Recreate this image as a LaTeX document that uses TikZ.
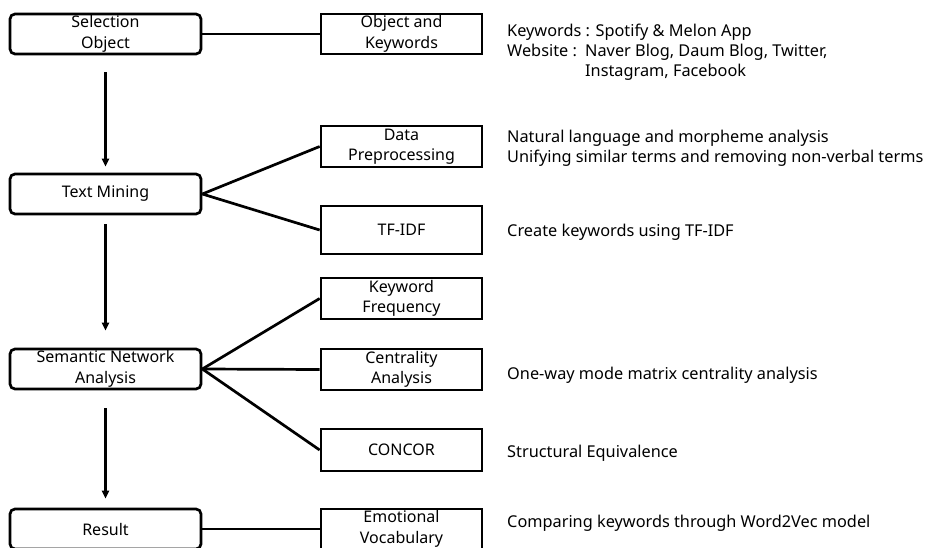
\documentclass[tikz,border=0pt]{standalone}
\usepackage{fontspec}
\setmainfont{Noto Sans}
\usetikzlibrary{arrows.meta}
\tikzset{
  leftbox/.style={draw, line width=2.7pt, rounded corners=5pt, minimum width=191pt, minimum height=40pt, inner sep=0pt, align=center, font=\fontsize{16}{20.5}\selectfont},
  rightbox/.style={draw, line width=2.7pt, minimum width=161pt, minimum height=40pt, inner sep=0pt, align=center, font=\fontsize{16}{20.5}\selectfont},
  link/.style={line width=2.7pt},
  flow/.style={line width=2.2pt, -{Triangle[length=8pt,width=7pt]}},
  note/.style={anchor=west, inner sep=0pt, align=left, font=\fontsize{16.3}{20}\selectfont}
}
\begin{document}
\begin{tikzpicture}[x=1pt,y=-1pt]
\useasboundingbox (0,0) rectangle (929,548);
% left boxes
\node[leftbox] (sel) at (105.5,34) {Selection\\Object};
\node[leftbox] (tm) at (105.5,194) {Text Mining};
\node[leftbox] (sna) at (105.5,369) {Semantic Network\\Analysis};
\node[leftbox] (res) at (105.5,529) {Result};
% right boxes
\node[rightbox] (oak) at (401.5,34) {Object and\\Keywords};
\node[rightbox, minimum height=41pt] (dp) at (401.5,146.5) {Data\\Preprocessing};
\node[rightbox, minimum height=48pt] (tfidf) at (401.5,230) {TF-IDF};
\node[rightbox, minimum height=41pt] (kf) at (401.5,298.5) {Keyword\\Frequency};
\node[rightbox, minimum height=41pt] (ca) at (401.5,369.5) {Centrality\\Analysis};
\node[rightbox, minimum height=42pt] (concor) at (401.5,450) {CONCOR};
\node[rightbox] (ev) at (401.5,529) {Emotional\\Vocabulary};
% flow arrows
\draw[flow] ([yshift=-17pt]sel.south) -- ([yshift=6pt]tm.north);
\draw[flow] ([yshift=-9pt]tm.south) -- ([yshift=17pt]sna.north);
\draw[flow] ([yshift=-18pt]sna.south) -- ([yshift=9pt]res.north);
% links
\draw[link] (sel.east) -- (oak.west);
\draw[link] (tm.east) -- (dp.west);
\draw[link] (tm.east) -- (tfidf.west);
\draw[link] (sna.east) -- (kf.west);
\draw[link] (sna.east) -- (ca.west);
\draw[link] (sna.east) -- (concor.west);
\draw[link] (res.east) -- (ev.west);
% notes
\node[note] (n1) at (507,52) {Keywords : Spotify \& Melon App\\\makebox[78pt][l]{Website :}Naver Blog, Daum Blog, Twitter,\\\hspace*{78pt}Instagram, Facebook};
\node[note] (n2) at (507,148) {Natural language and morpheme analysis\\Unifying similar terms and removing non-verbal terms};
\node[note] (n3) at (507,232) {Create keywords using TF-IDF};
\node[note] (n4) at (507,375) {One-way mode matrix centrality analysis};
\node[note] (n5) at (507,453) {Structural Equivalence};
\node[note] (n6) at (507,523) {Comparing keywords through Word2Vec model};
\end{tikzpicture}
\end{document}
